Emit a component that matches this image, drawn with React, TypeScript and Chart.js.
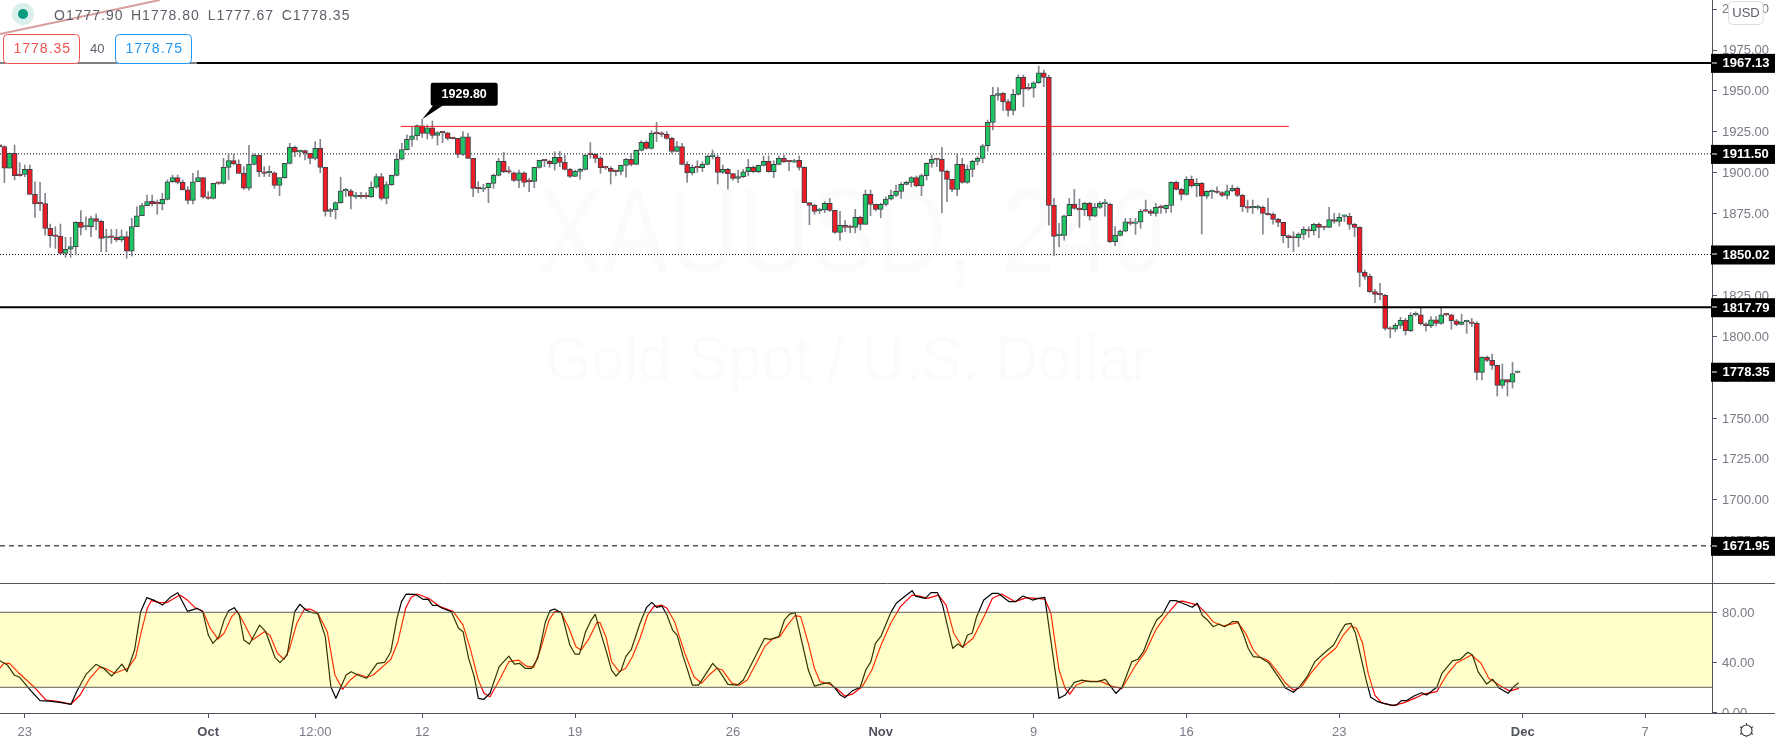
import React, { useEffect, useRef } from "react";
import Chart from "chart.js/auto";

const opensA = [1917,1915.9,1902.7,1911.9,1898.4,1899,1902.1,1886.8,1881.3,1881.1,1866,1861.5,1861.3,1850.7,1853.2,1854.8,1869.7,1866.8,1867,1871.9,1870.3,1860.1,1860.7,1860.5,1858.9,1860.9,1852,1867,1873.7,1879.9,1882.5,1881.1,1881,1883.7,1894.5,1897,1894.1,1889.6,1883.1,1894.5,1897,1885,1884.3,1893.7,1893.5,1903.3,1907.4,1905.3,1899.6,1890.5,1905.1,1910.6,1900.6,1900,1900,1892.3,1897,1905.7,1915.5,1912.7,1913.5,1911.9,1908.8,1914.9,1903.3,1876.4,1877.4,1881.7,1889,1889,1885.4,1885.4,1885.3,1885.2,1891.1,1897.6,1884.3,1892.7,1898.4,1908.2,1914.1,1920.4,1922.6];
const highsA = [1917.5,1916.5,1912,1916.9,1906.1,1904.7,1904.7,1894.5,1894.1,1887.4,1868.6,1867,1868.6,1860.5,1860.5,1870.1,1876.8,1873.1,1873.5,1874.8,1871.1,1865.4,1865.4,1865.4,1865,1864,1872.1,1879.2,1881.3,1886.4,1886.4,1883.3,1887.4,1895.6,1898.6,1898.6,1895.6,1891.5,1899.6,1901.3,1897,1888.4,1893.5,1894,1908.8,1911.9,1911.4,1907.8,1903.7,1916.7,1911.4,1911,1903.7,1904.1,1900.6,1897,1905.7,1918,1916.3,1913.9,1913.9,1911.9,1919,1920.4,1903.3,1878.2,1882.3,1897.2,1890.5,1889.8,1888,1888,1887.8,1894.5,1899.2,1899.6,1894.5,1898.6,1911.9,1918,1923.1,1927.7,1929.2];
const lowsA = [1915,1893.9,1902.7,1895.6,1897.8,1897.6,1886.8,1872.7,1876.8,1861.9,1854.4,1853.8,1850.3,1848.3,1848.3,1849.7,1861.9,1865,1860.9,1865,1851.7,1851.7,1856.8,1857.8,1857.8,1847.7,1849.1,1867,1873.7,1879.9,1879.7,1874.6,1877.2,1883.3,1893.9,1893.1,1889.4,1880.9,1880.9,1894.5,1884.3,1883.7,1883.9,1892.9,1893.1,1895.6,1904.7,1899.6,1889.8,1889.4,1904.7,1897.6,1897.6,1897.6,1890.5,1886,1896.6,1905.3,1909.8,1909.8,1907.8,1905.3,1907.8,1900,1873.5,1873.1,1871.7,1881.3,1885.4,1877.8,1884.1,1884.3,1884.3,1884.8,1890.5,1883.3,1880.9,1892.3,1898,1907.8,1913.9,1916,1920];
const closesA = [1915.9,1902.7,1911.9,1898.2,1898.2,1902.1,1886.8,1880.9,1881,1866,1861.5,1861.1,1850.7,1853.2,1854.8,1869.7,1866.6,1867,1871.9,1870.3,1859.9,1860.7,1860.5,1858.9,1860.9,1852,1867,1873.7,1879.9,1882.3,1880.9,1881,1883.7,1894.5,1897,1894.1,1889.6,1883.1,1894.5,1897,1885,1884.3,1893.5,1893.5,1903.3,1907.4,1905.3,1899.6,1890.5,1905.1,1910.6,1900.6,1899.6,1900,1892.3,1897,1905.7,1915.5,1912.5,1913.5,1911.9,1908.8,1914.9,1903.3,1876.4,1877.4,1881.7,1889,1889.4,1885.6,1885.4,1885.3,1885.2,1891.1,1897.6,1884.3,1892.7,1898.4,1908.2,1914.1,1920.4,1922.6,1928.8];

const opensB = [1928.7,1924,1927.5,1922.8,1924.5,1924.3,1921,1921,1911.2,1922,1908.8,1890.4,1889.9,1890.8,1893.5,1898.4,1906.9,1900.6,1900,1895.3,1900,1894.5,1894.7,1903.3,1907.4,1906.9,1905.3,1909.4,1906.3,1902,1897.8,1900.8,1902,1911.2,1911.2,1908.8,1903.1,1902.7,1900.8,1900.8,1904.5,1908.2,1905.1,1913.7,1918.6,1914.9,1924,1923.9,1923.4,1921,1913,1915.9,1905.1,1899.8,1903.1,1903.1,1905.1,1909.8,1909.6,1900.2,1902,1899.4,1896.5,1897.6,1900.6,1903.3,1900.6,1904.5,1906.9,1900.6,1905.1,1908.8,1906.7,1906.5,1907.5,1903.3,1881.7,1880,1876.8,1877.2,1881.3,1877,1863.5,1867.8,1866.6,1866.6,1872.7];
const highsB = [1932.6,1929.1,1931.6,1925.1,1925.1,1924.7,1921.6,1921,1925.1,1924,1908.8,1894.5,1892.9,1893.7,1899.2,1908.8,1912.4,1903.7,1900.6,1901.6,1900.6,1896.5,1903.3,1907.7,1907.7,1907.7,1912.8,1913,1910.8,1902.7,1901.6,1902.7,1911.4,1918.4,1911.8,1909.8,1904.1,1903.7,1901.6,1904.7,1908.8,1911.8,1913.9,1919.6,1919.6,1925.7,1930.8,1925.1,1925.1,1921.6,1919,1917.9,1906.7,1904.7,1907.3,1906.7,1910.8,1913.9,1910.8,1904.7,1902.7,1899.6,1901.6,1902,1908.2,1904.1,1904.7,1910.2,1910.2,1907.3,1910.2,1910.8,1907.3,1908.2,1910.2,1903.7,1881.7,1880.8,1878.2,1882.3,1884.3,1877.2,1876.4,1870.7,1868,1877.6,1873.5];
const lowsB = [1921.6,1920.6,1921,1916.9,1918.4,1920,1920.6,1909.2,1910.4,1908.8,1885.3,1887.8,1888.4,1881.7,1890.4,1898,1900,1899.6,1894.5,1890.8,1891.4,1888.4,1890.8,1902.7,1903.7,1903.3,1901.6,1903.7,1901.6,1897,1897.6,1896.1,1901.6,1908.8,1906.1,1899.6,1902,1893.1,1898,1898.6,1897.2,1904.1,1905.1,1913.3,1914.3,1914.3,1919,1922,1920.4,1911.8,1912.8,1904.7,1894.1,1898.6,1900.2,1900.6,1904.7,1908.4,1893.1,1899.6,1890,1895.5,1893.9,1897,1898,1900,1900,1904.1,1900.2,1897,1904.7,1906.1,1901.2,1906.1,1901.6,1881.7,1868.2,1874.7,1875.1,1875.5,1876.2,1862.9,1858.8,1863.9,1863.3,1863.3,1865];
const closesB = [1924,1927.5,1922.8,1924.5,1924.4,1921,1920.8,1911.2,1922,1908.8,1890.4,1890.2,1890.8,1893.5,1898.4,1906.9,1900.6,1900.4,1895.3,1900,1894.1,1894.4,1903.3,1907.5,1907.3,1905.3,1909.4,1906.3,1902,1897.8,1900.8,1902,1910.8,1911.1,1908.8,1903.1,1903,1900.8,1900.7,1904.5,1908.2,1905.1,1913.7,1918.6,1914.9,1924,1923.9,1923.4,1921,1913,1915.9,1905.1,1899.8,1903.3,1903,1905.1,1910,1909.9,1900.2,1902,1899.4,1896.5,1897.6,1900.6,1903.3,1900.6,1904.5,1906.9,1900.6,1905.1,1908.8,1906.7,1906.6,1907.3,1903.3,1881.7,1880,1876.4,1876.8,1881.3,1877,1863.5,1867.8,1866.6,1866.5,1872.7,1868.4];

const opensC = [1868.4,1886.8,1880.6,1877.6,1880.6,1883.9,1886.1,1888.6,1892.9,1894.1,1897.1,1891.9,1898.2,1905.7,1908.2,1908.2,1900.8,1895.9,1889.8,1905.1,1894.1,1902,1906.9,1908.8,1916.5,1930.8,1947.3,1948.5,1943.4,1938.1,1947.9,1958.3,1951.3,1951.6,1955,1961.1,1958.3,1880,1861.5,1861.7,1873.7,1880.6,1878.2,1877.2,1881.3,1873.5,1878.8,1881.1,1880.6,1857.8,1861.7,1864.3,1870,1869,1870,1876.6,1876.6,1875.1,1878.8,1878,1880,1894.1,1889.8,1886.8,1895.9,1891.9,1893.5,1885.7,1888.4,1888,1887.8,1886.1,1889,1890.4,1886.1,1879.2,1878.6,1878.6,1878.8,1875.1,1874.5,1871.5,1869.6,1861.5,1860.2,1860.1];
const highsC = [1889.4,1889.4,1880.8,1881.3,1885.3,1889.4,1892.5,1893.9,1894.9,1897.6,1898,1899.2,1906.1,1910.8,1908.8,1915.5,1901.6,1895.9,1911.8,1908.8,1904.7,1907.7,1909.8,1917.3,1932.2,1952.2,1952,1948.9,1944.8,1951,1959.7,1959.7,1954.6,1955.6,1965.2,1962.8,1959.7,1884.3,1869,1874.1,1884.3,1889.8,1883.9,1881.9,1881.9,1881.3,1882.3,1883.7,1881.3,1867,1865,1872.1,1872.1,1872.1,1877.6,1883.3,1877.6,1881.3,1880.2,1880.2,1894.5,1894.9,1890.4,1897.6,1898,1896.5,1894.1,1889,1889.4,1891.4,1888.4,1892.5,1892.5,1891.4,1886.8,1883.3,1883.3,1880.2,1879.6,1884.3,1875.5,1872.1,1869.6,1861.9,1863.9,1863.3];
const lowsC = [1868.4,1873.7,1876.6,1872.5,1879.8,1883.3,1885.3,1884.3,1892.5,1891.4,1891.4,1885.9,1895.5,1903.3,1903.7,1875.5,1882.3,1888.4,1885.9,1893.5,1893.5,1897.6,1904.7,1906.1,1913.2,1926.1,1944.4,1937.9,1934.6,1935.3,1947.5,1940.4,1950.5,1946.1,1954.6,1952.6,1868,1849.3,1854.8,1858.8,1873.7,1877.6,1866.6,1873.7,1871,1873.1,1878.2,1873.5,1857.2,1855.4,1861.3,1863.9,1868,1862.3,1866,1876,1873.7,1873.5,1875.1,1875.5,1875.7,1889.4,1883.3,1886.3,1891,1885.3,1862.5,1884.3,1884.3,1887.4,1885.3,1883.9,1888.4,1885.3,1876.2,1875.7,1875.1,1877.6,1862.5,1874.1,1868.6,1867,1857.2,1854.1,1851.7,1854.8];
const closesC = [1886.8,1880.6,1877.6,1880.6,1883.9,1886.1,1888.6,1892.9,1894.1,1897.1,1891.9,1898.2,1905.7,1908.2,1908.1,1900.8,1895.9,1889.8,1905.1,1894.1,1902,1906.9,1908.8,1916.5,1930.8,1947.3,1948.3,1943.4,1938.1,1947.9,1958.3,1951,1951.2,1955,1961.1,1958.3,1880,1861.1,1861.6,1873.7,1880.6,1878.2,1877.2,1881.3,1873.5,1878.8,1881.3,1881.2,1857.8,1861.7,1864.3,1870,1869,1870,1876.4,1876.5,1875.1,1878.8,1878.7,1880,1894.1,1889.8,1886.8,1895.9,1891.9,1893.5,1885.7,1888.6,1888.4,1887.9,1886.1,1889,1890.4,1886.1,1879.2,1878.4,1878.6,1878.6,1875.1,1874.3,1871.5,1869.6,1861.5,1860.3,1860.1,1862.5];

const opensD = [1862.3,1865.2,1864.4,1868.4,1866.6,1866.6,1871.3,1870.3,1873.3,1873.3,1868.4,1866.6,1839.1,1836.6,1827.3,1825.4,1825,1804.4,1804.4,1806.7,1809.7,1803.4,1813.2,1813.2,1807.7,1806.5,1810.1,1807.9,1813.2,1813.2,1809.5,1807.3,1808.9,1808.9,1807.9,1778,1787.1,1785.3,1782.2,1770,1773.5,1772,1777.9];
const highsD = [1867,1867,1869.1,1869.4,1867,1878.8,1875.2,1875.2,1874.1,1875.2,1869.1,1867,1840.5,1838.1,1828.7,1832.4,1825.6,1805.9,1807.9,1811.6,1811,1814.4,1815,1817.3,1808.3,1812,1812,1817.7,1814,1813.6,1810.3,1813.6,1809.9,1811,1808.9,1787.5,1787.9,1789.2,1782.4,1783,1773.7,1784.1,1778.8];
const lowsD = [1859.3,1860.5,1861.9,1860.3,1865,1866.4,1869.1,1867.4,1870.1,1865.4,1860.9,1830.3,1834.8,1826.9,1820.5,1822.2,1803.8,1799.1,1802.8,1804.8,1800.8,1802.8,1812.4,1806.9,1803.2,1805.3,1806.3,1807.3,1812.4,1804.4,1806.5,1806.9,1801.8,1805.9,1773.3,1773.3,1784.5,1779.8,1763.5,1768.2,1763.5,1768.4,1777.67];
const closesD = [1865.4,1864.4,1868.4,1866.6,1866.5,1871.3,1870.3,1872.7,1873.3,1868.4,1866.6,1839.1,1836.6,1827.3,1825.6,1825.3,1804.8,1804.3,1806.7,1809.7,1803.4,1812.8,1813.2,1807.7,1806.5,1810.1,1807.9,1813.2,1813.1,1809.5,1807.3,1808.9,1808.9,1807.9,1778,1787.1,1785.3,1782.2,1770,1773.5,1772,1777.3,1778.35];

// ---- Stochastic lines, vertices as [candle position, value] ----
const stochK = [[0.1,41.3],[1.6,37.8],[3,29.6],[4,28],[6.2,17.3],[8,9.3],[9.9,9],[12.2,7.7],[14.1,6.4],[15.2,16.5],[17.1,30.6],[19,38.4],[20.5,35.2],[22.1,29],[24.1,38.6],[25.1,32.5],[26.6,49.8],[27.8,80.5],[29,91.7],[30.6,89.3],[32.1,85.8],[33.6,92],[35.1,95.7],[37,80.8],[38.9,83.2],[40,80.5],[41.1,61.8],[42,55.2],[43.2,60.5],[44.2,73.8],[45.1,81.3],[46.2,83.7],[47.2,77.8],[48.1,57.8],[49.2,54.6],[51.2,69.8],[52.4,64.5],[54.2,44],[55.2,39.7],[56.6,45.8],[58.1,80.5],[59.1,86.4],[60.3,81.8],[61.5,79.7],[62.6,79.2],[64.1,60.5],[65.2,20.5],[66.2,11.2],[67.2,20.5],[68.2,29.8],[69.2,32.5],[70.5,29.8],[72.2,27.2],[74.3,39.2],[75.8,40],[77,48.5],[78.2,75.2],[79.1,88.5],[80,94.6],[81.8,94.4],[83.3,90.4],[84.3,90.6],[85.2,85.6],[86.1,85.6],[87.1,83.2],[88.9,80.5],[90.3,67.2],[91.2,64.5],[92.3,43.2],[93.4,28.5],[94.2,11.2],[95.3,10.4],[96.5,15.2],[98.3,36.5],[100.2,45],[101.3,38.6],[102.3,39.2],[103.4,35.2],[104.7,35.2],[105.9,43.2],[107.4,72.5],[108.3,81.3],[109.2,82.6],[110.6,79.2],[112.2,53.8],[113.2,46.6],[114.1,46.6],[115.3,64.5],[116.4,73.8],[117.2,78.4],[118.1,65.8],[119.3,49.8],[120.4,33.8],[121.3,29],[122.3,33.8],[123.2,44.5],[124.3,50.4],[126,71.2],[127.3,84],[128.3,88],[129.3,84],[130.3,85],[131.3,77.8],[132.4,65.8],[133.3,61.8],[134.5,44.5],[136.3,21.8],[137.5,21.8],[138.8,29.8],[140.3,39.2],[141.5,33.8],[143.3,22.4],[145.2,21.8],[146.3,25.8],[147.5,35.2],[150.5,59.2],[151.6,58.4],[153.3,60.5],[154.4,73.8],[155.4,78.6],[156.5,79.7],[157.6,60.5],[159.1,33.8],[160.3,21],[162.2,23.2],[163.3,23.7],[164.4,19.2],[165.4,13.8],[166.3,11.7],[167.8,17.3],[169.3,20],[170.4,33.8],[171.4,40.5],[172.3,55.2],[173.4,61],[175.3,79.7],[176.4,87.2],[177.6,91.2],[179.5,97.3],[180.2,93],[182.1,91.2],[183.2,95.7],[184.5,95.7],[185.5,85.8],[187.5,51.2],[188.5,54.6],[189.5,52],[190.4,61.8],[191.3,63.2],[192.2,76.5],[193.6,89.8],[195.3,95.2],[196.4,95.2],[198.6,88.5],[199.8,88.5],[201.3,93],[203.2,89.8],[204.3,91.2],[205.6,92],[208.4,11.2],[209.6,13.8],[211.4,24],[212.9,25.8],[214.4,24.5],[215.9,24.5],[217.5,26.4],[219.6,15.2],[220.8,20],[222.7,40.5],[223.9,42.4],[225,48.5],[226.5,64.5],[227.6,73.8],[228.7,77.8],[230.2,89.3],[231.4,89.3],[232.7,87.2],[234.6,84],[235.6,87.2],[236.6,77.3],[237.6,73.8],[238.7,68.5],[239.9,70.6],[241,68.5],[242.5,72.5],[243.6,72.5],[244.7,61.8],[245.6,51.2],[246.6,44.5],[247.9,44],[249.6,39.7],[251.5,28.5],[253,19.2],[254.5,16],[255.7,20.5],[257.2,28.5],[258.7,40.5],[260.5,47.2],[262.4,53.8],[263.8,64.5],[264.7,70.4],[265.8,71.2],[266.7,63.2],[267.9,41.8],[268.8,25.8],[269.7,12],[271.1,8.5],[272.2,7.2],[273.7,5.8],[274.8,5.8],[275.7,9.3],[276.7,9.3],[278.2,13],[279.7,15.7],[280.7,13.8],[282.7,20],[283.7,31.2],[285.8,41.3],[287.3,42.4],[288.8,48],[289.7,45.8],[290.8,32.5],[292.5,22.6],[293.7,26.4],[295,19.2],[296.7,15.2],[297.8,20.5],[298.8,23.7]];
const stochD = [[0.1,35.2],[0.9,39.2],[2,39.2],[3.9,31.2],[6.9,20],[9.2,9.8],[11.4,8.8],[14.1,6.6],[15.9,13.8],[17.8,27.2],[19.7,36],[20.8,35.2],[22.7,31.2],[25.3,35.2],[26.8,44],[28,65.8],[29.1,83.2],[29.9,89.3],[31.4,88],[32.9,87.7],[35.5,93.8],[37,89.8],[38.5,83.7],[40,81],[41.5,67.2],[43,58.6],[44.2,63.2],[45.7,76.5],[46.8,81],[48.3,69.8],[49.8,57.8],[52.1,64.5],[53.2,61.8],[54.7,47.2],[56,42.4],[57,49.8],[58.5,71.2],[60,82.4],[61.1,82.6],[62.6,79.7],[64.5,64.5],[66,29.8],[67.5,18.4],[69,25.8],[70.5,30.6],[72.4,28],[73.5,29.8],[75.4,36.5],[77,42.4],[78.4,56.5],[79.9,83.2],[81,92],[82.2,94.6],[84.4,91.2],[86.7,84.5],[89.3,80.5],[91.2,69.8],[92.7,49.8],[94.2,25.8],[95.3,15.2],[96.5,12.5],[98,23.2],[100.2,40.5],[102.1,41.8],[103.6,37],[105.1,36],[106.6,52.5],[108.1,73.8],[109.2,80.5],[110.4,80.5],[111.9,68.5],[113.4,52.5],[114.4,49.8],[116,59.2],[117.5,71.7],[118.1,72],[119.3,60.5],[120.4,40.5],[121.9,32.5],[123.2,35.2],[124.5,44.5],[126,59.2],[127.5,77.8],[128.7,84.5],[130.2,85.8],[131.3,83.2],[132.8,72.5],[134.7,48.5],[136.6,28.5],[138.1,23.2],[139.6,29.8],[141.1,35.2],[142.2,33.8],[144.1,23.2],[145.6,21.8],[147.1,25.8],[149,40.5],[150.5,52.5],[152,58.4],[153.5,60.5],[155,69.8],[156.5,77.3],[157.6,76.5],[159.1,55.2],[160.3,35.2],[161.4,24.5],[163.3,22.6],[164.8,18.4],[166.3,13],[167.8,14.6],[169.7,20.5],[171.6,33.8],[173.4,53.8],[175.3,71.2],[177.2,84.5],[179.5,93.8],[181,93],[182.5,91.2],[184.7,93.8],[186.2,85.8],[187.7,63.2],[189.4,52],[191.5,59.2],[193.8,77.8],[195.3,91.2],[197.1,94.6],[199.8,88.5],[202,91.7],[205.6,90.6],[206.8,79.2],[208.4,33.8],[209.6,19.2],[210.5,14.6],[211.8,21.8],[213.7,25],[216.7,24.5],[219,20.5],[220.8,19.2],[223.5,37.8],[225.4,48.5],[227.6,67.2],[229.5,77.8],[231.8,88.5],[232.7,89],[235.7,85.8],[237.2,79.7],[238.7,72.5],[240.6,69],[243.6,71.7],[245.1,63.2],[246.6,49.8],[247.9,44],[249.6,41.3],[251.1,33.8],[253,23.2],[254.5,17.8],[256,20],[257.9,31.2],[260.2,42.4],[262.8,51.2],[264.3,61.8],[265.8,69],[266.9,67.2],[268.1,55.2],[269.2,31.2],[270.5,13.8],[271.8,7.7],[274.1,5.3],[276.3,7.7],[278.6,11.7],[280.1,14.6],[282.7,16.5],[284.6,29.8],[286.5,39.2],[289.5,45.8],[291.4,39.2],[292.9,27.2],[295.5,20.5],[297,17],[298.8,19.2]];

// ---- Axes ----
const xTickIdx = [5, 41, 62, 83, 113, 144, 173, 203, 233, 263, 299, 323];
const xTickLabels = ["23", "Oct", "12:00", "12", "19", "26", "Nov", "9", "16", "23", "Dec", "7"];
const boldLabels = ["Oct", "Nov", "Dec"];
const priceTicks = [1675, 1700, 1725, 1750, 1775, 1800, 1825, 1850, 1875, 1900, 1925, 1950, 1975, 2000];
const stochTicks = [0, 40, 80];
const priceRange = [1649.2, 2005.56];
const stochRange = [-0.56, 103.4];

// ---- Levels and drawings ----
const solidLevels = [1967.13, 1817.79];
const dottedLevels = [1911.5, 1850.02];
const dashedLevels = [1671.95];
const tagLevels = [1967.13, 1911.5, 1850.02, 1817.79, 1778.35, 1671.95];
const resistanceIdx = [78.8, 253.1];
const resistanceLevel = [1928.3, 1928.3];
const trendIdx = [0.14, 31.5];
const trendPrice = [1984.8, 2005.56];
const calloutIdx = 83;
const calloutPrice = 1932.6;
const calloutText = "1929.80";
const bandLevels = [20, 80];

const legendValues = ["O1777.90", "H1778.80", "L1777.67", "C1778.35"];
const bidText = "1778.35";
const askText = "1778.75";
const spreadText = "40";
const watermarkLines = ["XAUUSD, 240", "Gold Spot / U.S. Dollar"];

const opens = [...opensA, ...opensB, ...opensC, ...opensD];
const highs = [...highsA, ...highsB, ...highsC, ...highsD];
const lows = [...lowsA, ...lowsB, ...lowsC, ...lowsD];
const closes = [...closesA, ...closesB, ...closesC, ...closesD];

const FONT = '"Liberation Sans", Arial, sans-serif';
const AXIS = "#50535e";
const LABEL = "#787b86";

const noPaddingY = (s: any) => { s.width = 63; s.paddingTop = 0; s.paddingBottom = 0; };
const noPaddingX = (s: any) => { s.height = 24; s.paddingLeft = 0; s.paddingRight = 0; };

const overlay = {
  id: "overlay",
  beforeDatasetsDraw(chart: any) {
    const { ctx } = chart;
    ctx.save();
    ctx.fillStyle = "rgba(0,0,0,0.015)";
    ctx.textAlign = "center";
    ctx.textBaseline = "alphabetic";
    ctx.font = `118px ${FONT}`;
    ctx.fillText(watermarkLines[0], 851, 272, 628);
    ctx.font = `63px ${FONT}`;
    ctx.fillText(watermarkLines[1], 848, 380, 607);
    ctx.restore();
  },
  afterDatasetsDraw(chart: any) {
    const { ctx, chartArea, scales } = chart;
    const yS = scales.yS;
    const top = yS.getPixelForValue(bandLevels[1]);
    const bot = yS.getPixelForValue(bandLevels[0]);
    ctx.save();
    ctx.fillStyle = "rgba(255,255,0,0.2)";
    ctx.fillRect(chartArea.left, top, chartArea.right - chartArea.left, bot - top);
    ctx.strokeStyle = "#5f5f55";
    ctx.lineWidth = 1;
    ctx.beginPath();
    for (const y of [top, bot]) {
      ctx.moveTo(chartArea.left, y);
      ctx.lineTo(chartArea.right, y);
    }
    ctx.stroke();
    ctx.restore();
  },
  afterDraw(chart: any) {
    const { ctx, scales } = chart;
    const y = scales.y;
    const x = scales.x;
    ctx.save();

    // pane separator and bottom rule across the whole width, hiding what falls below it
    ctx.fillStyle = "#fff";
    ctx.fillRect(1713, 714, 62, 23);
    ctx.strokeStyle = AXIS;
    ctx.lineWidth = 1;
    ctx.beginPath();
    ctx.moveTo(0, 583.5); ctx.lineTo(1775, 583.5);
    ctx.moveTo(0, 713.5); ctx.lineTo(1775, 713.5);
    ctx.stroke();

    // price tags
    ctx.textBaseline = "middle";
    ctx.textAlign = "left";
    for (const v of tagLevels) {
      const py = y.getPixelForValue(v);
      ctx.fillStyle = "#000";
      ctx.fillRect(1711, py - 9, 64, 19);
      ctx.fillStyle = "#fff";
      ctx.fillRect(1712, Math.round(py) - 0.5, 5, 1);
      ctx.font = `bold 13px ${FONT}`;
      ctx.fillText(v.toFixed(2), 1722.5, py + 1);
    }

    // faded backdrop behind the legend
    ctx.fillStyle = "rgba(255,255,255,0.5)";
    ctx.fillRect(0, 0, 197, 65);

    // symbol dot
    ctx.fillStyle = "#d9efec";
    ctx.beginPath(); ctx.arc(23, 14, 11, 0, Math.PI * 2); ctx.fill();
    ctx.fillStyle = "#089981";
    ctx.beginPath(); ctx.arc(23, 14, 5, 0, Math.PI * 2); ctx.fill();

    // legend values
    const legendX = [54, 131, 207.7, 281.7];
    ctx.font = `14px ${FONT}`;
    (ctx as any).letterSpacing = "1px";
    ctx.fillStyle = "#5d606b";
    legendValues.forEach((t, i) => ctx.fillText(t, legendX[i], 16));

    // bid / ask boxes
    const box = (left: number, right: number, color: string, text: string) => {
      ctx.fillStyle = "#fff";
      ctx.strokeStyle = color;
      ctx.lineWidth = 1;
      ctx.beginPath();
      ctx.roundRect(left + 0.5, 34.5, right - left, 29, 4);
      ctx.fill();
      ctx.stroke();
      ctx.fillStyle = color;
      ctx.fillText(text, left + 10.5, 49);
    };
    box(3, 79, "#ef5350", bidText);
    box(115, 191, "#2196f3", askText);
    (ctx as any).letterSpacing = "0px";
    ctx.fillStyle = "#5d606b";
    ctx.font = `13px ${FONT}`;
    ctx.fillText(spreadText, 90, 49.5);

    // USD button
    ctx.fillStyle = "#fff";
    ctx.strokeStyle = "#dcdde0";
    ctx.beginPath();
    ctx.roundRect(1728.5, 1.5, 34.5, 23, 4);
    ctx.fill();
    ctx.stroke();
    ctx.fillStyle = "#5d606b";
    ctx.textAlign = "center";
    ctx.font = `13px ${FONT}`;
    ctx.fillText("USD", 1746, 13.5);

    // callout
    const tipX = x.getPixelForValue(calloutIdx);
    const tipY = y.getPixelForValue(calloutPrice);
    ctx.fillStyle = "#000";
    ctx.beginPath();
    ctx.roundRect(tipX + 8.5, tipY - 36.5, 67, 23, 2);
    ctx.fill();
    ctx.beginPath();
    ctx.moveTo(tipX, tipY);
    ctx.lineTo(tipX + 11, tipY - 14);
    ctx.lineTo(tipX + 21, tipY - 14);
    ctx.closePath();
    ctx.fill();
    ctx.fillStyle = "#fff";
    ctx.font = `bold 12.5px ${FONT}`;
    ctx.fillText(calloutText, tipX + 42, tipY - 24.5);

    // settings gear
    const gx = 1746.5, gy = 730.5;
    ctx.strokeStyle = "#3a3d46";
    ctx.lineWidth = 1.2;
    ctx.beginPath();
    ctx.arc(gx, gy, 5.5, 0, Math.PI * 2);
    for (let k = 0; k < 6; k++) {
      const a = (k * Math.PI) / 3 + Math.PI / 2;
      ctx.moveTo(gx + 5.5 * Math.cos(a), gy + 5.5 * Math.sin(a));
      ctx.lineTo(gx + 7.5 * Math.cos(a), gy + 7.5 * Math.sin(a));
    }
    ctx.stroke();
    ctx.restore();
  },
};

export default function App() {
  const ref = useRef<HTMLCanvasElement | null>(null);
  useEffect(() => {
    if (!ref.current) return;
    const xMin = 0.137;
    const xMax = 336.15;
    const idx = opens.map((_, i) => i);
    const lineCommon = { type: "line" as const, pointRadius: 0, tension: 0, fill: false, borderJoinStyle: "round" as const };
    const level = (v: number) => [{ x: xMin, y: v }, { x: xMax, y: v }];

    const chart = new Chart(ref.current, {
      type: "bar",
      data: {
        datasets: [
          ...dottedLevels.map((v) => ({
            ...lineCommon, label: `level ${v}`, data: level(v), yAxisID: "y", order: 5,
            borderColor: "#000", borderWidth: 1, borderDash: [1, 2],
          })),
          ...dashedLevels.map((v) => ({
            ...lineCommon, label: `level ${v}`, data: level(v), yAxisID: "y", order: 5,
            borderColor: "#000", borderWidth: 1, borderDash: [5, 4],
          })),
          {
            label: "Wicks",
            data: idx.map((i) => ({ x: i, y: [lows[i], highs[i]] })),
            yAxisID: "y", order: 4, grouped: false, barThickness: 1,
            backgroundColor: "#85868f", borderWidth: 0,
          },
          {
            label: "XAUUSD",
            data: idx.map((i) => ({ x: i, y: [opens[i], closes[i]] })),
            yAxisID: "y", order: 3, grouped: false, barThickness: 5, minBarLength: 1.5,
            backgroundColor: idx.map((i) => (closes[i] >= opens[i] ? "#1fc463" : "#ee1c25")),
            borderColor: "#41434c", borderWidth: 1, borderSkipped: false,
          },
          {
            ...lineCommon, label: "Red level",
            data: resistanceIdx.map((x, i) => ({ x, y: resistanceLevel[i] })),
            yAxisID: "y", order: 2, borderColor: "#ff1a1a", borderWidth: 1,
          },
          {
            ...lineCommon, label: "Trend",
            data: trendIdx.map((x, i) => ({ x, y: trendPrice[i] })),
            yAxisID: "y", order: 2, borderColor: "#b03a3a", borderWidth: 2,
          },
          ...solidLevels.map((v) => ({
            ...lineCommon, label: `level ${v}`, data: level(v), yAxisID: "y", order: 1,
            borderColor: "#000", borderWidth: 2,
          })),
          {
            ...lineCommon, label: "%K",
            data: stochK.map(([x, y]) => ({ x, y })), xAxisID: "xS", yAxisID: "yS", order: 1,
            borderColor: "#000", borderWidth: 1.2,
          },
          {
            ...lineCommon, label: "%D",
            data: stochD.map(([x, y]) => ({ x, y })), xAxisID: "xS", yAxisID: "yS", order: 1,
            borderColor: "#ff0000", borderWidth: 1.2,
          },
        ] as any,
      },
      options: {
        responsive: false,
        animation: false,
        events: [],
        layout: { padding: 0 },
        plugins: { legend: { display: false }, tooltip: { enabled: false } },
        scales: {
          x: {
            type: "linear", min: xMin, max: xMax, offset: false,
            afterBuildTicks: (s: any) => { s.ticks = xTickIdx.map((value) => ({ value })); },
            afterFit: noPaddingX,
            ticks: {
              autoSkip: false, maxRotation: 0, padding: 7,
              callback: (_v: any, i: number) => xTickLabels[i],
              font: (c: any) => ({ family: FONT, size: 13, weight: boldLabels.includes(xTickLabels[c.index]) ? "bold" : "normal" }),
              color: (c: any) => (boldLabels.includes(xTickLabels[c.index]) ? AXIS : LABEL),
            },
            grid: { drawOnChartArea: false, offset: false, tickLength: 5, color: AXIS },
            border: { color: AXIS },
          },
          xS: {
            type: "linear", display: false, min: 0.138, max: 336.81, offset: false,
          },
          y: {
            position: "right", stack: "panes", stackWeight: 583.3,
            min: priceRange[0], max: priceRange[1],
            afterBuildTicks: (s: any) => { s.ticks = priceTicks.map((value) => ({ value })); },
            afterFit: noPaddingY,
            ticks: {
              autoSkip: false, padding: 5, labelOffset: 0.8, color: LABEL, font: { family: FONT, size: 13 },
              callback: (v: any) => Number(v).toFixed(2),
            },
            grid: { drawOnChartArea: false, tickLength: 5, color: AXIS },
            border: { color: AXIS },
          },
          yS: {
            position: "right", stack: "panes", stackWeight: 130,
            min: stochRange[0], max: stochRange[1],
            afterBuildTicks: (s: any) => { s.ticks = stochTicks.map((value) => ({ value })); },
            afterFit: noPaddingY,
            ticks: {
              autoSkip: false, padding: 5, labelOffset: 0.8, color: LABEL, font: { family: FONT, size: 13 },
              callback: (v: any) => Number(v).toFixed(2),
            },
            grid: { drawOnChartArea: false, tickLength: 5, color: AXIS },
            border: { color: AXIS },
          },
        },
      } as any,
      plugins: [overlay],
    });
    return () => chart.destroy();
  }, []);
  return (
    <div style={{ position: "absolute", left: 0, top: 0, width: 1775, height: 737, background: "#fff" }}>
      <canvas ref={ref} width={1775} height={737} style={{ display: "block" }} />
    </div>
  );
}
